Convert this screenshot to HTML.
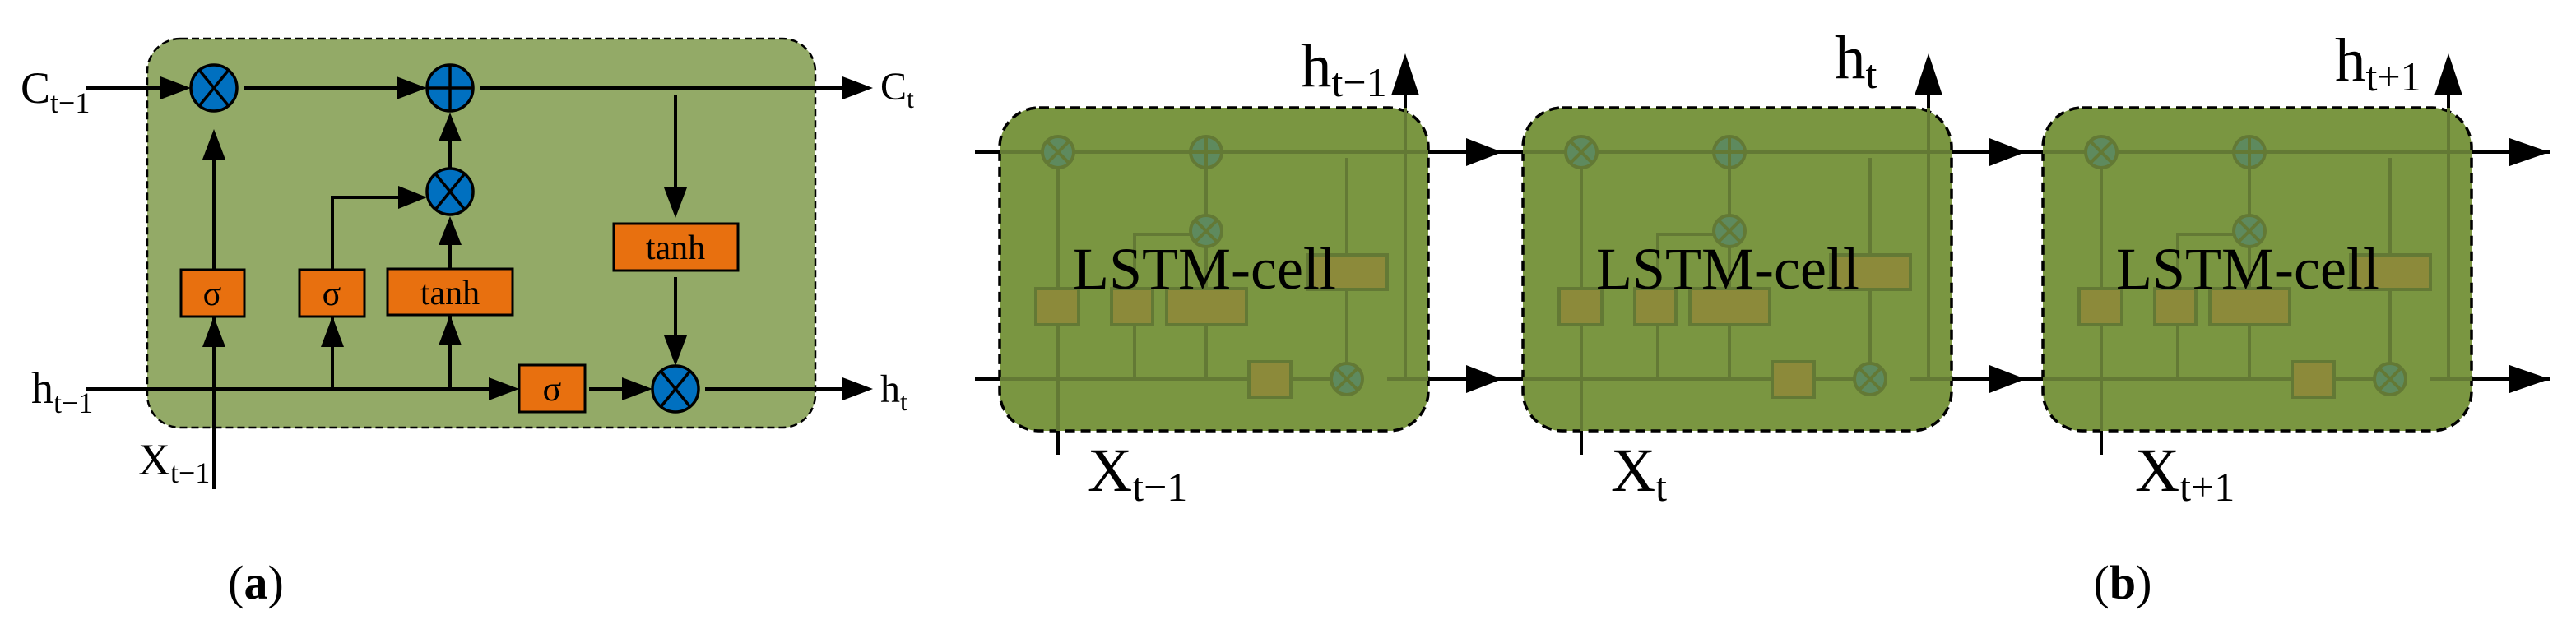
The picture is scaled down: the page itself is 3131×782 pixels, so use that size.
<!DOCTYPE html>
<html><head><meta charset="utf-8"><style>
html,body{margin:0;padding:0;background:#fff}
svg{display:block}
.s{font-family:"Liberation Serif","DejaVu Serif","Noto Serif CJK SC",serif}
</style></head><body>
<svg width="3131" height="782" viewBox="0 0 3131 782" xmlns="http://www.w3.org/2000/svg">
<defs>
<g id="cell">
  <line x1="-30" y1="185" x2="0" y2="185" stroke="#000" stroke-width="4"/>
  <line x1="-30" y1="461" x2="0" y2="461" stroke="#000" stroke-width="4"/>
  <line x1="520" y1="185" x2="611" y2="185" stroke="#000" stroke-width="4"/>
  <line x1="520" y1="461" x2="611" y2="461" stroke="#000" stroke-width="4"/>
  <polygon points="567,168 611,185 567,202" fill="#000"/>
  <polygon points="567,444 611,461 567,478" fill="#000"/>
  <line x1="493" y1="131" x2="493" y2="110" stroke="#000" stroke-width="4"/>
  <polygon points="476,116 493,65 510,116" fill="#000"/>
  <line x1="71" y1="524" x2="71" y2="553" stroke="#000" stroke-width="4"/>
  <rect x="0" y="131" width="521" height="393" rx="48" ry="48" fill="#7a9641" stroke="#000" stroke-width="3.5" stroke-dasharray="12,7"/>
  <g stroke="#637935" stroke-width="4" fill="none">
    <line x1="0" y1="185" x2="521" y2="185"/>
    <line x1="0" y1="461" x2="402" y2="461"/>
    <line x1="471" y1="461" x2="521" y2="461"/>
    <line x1="493" y1="131" x2="493" y2="461"/>
    <line x1="71" y1="206" x2="71" y2="524"/>
    <line x1="251" y1="205" x2="251" y2="262"/>
    <line x1="251" y1="300" x2="251" y2="461"/>
    <polyline points="164,461 164,285 232,285"/>
    <line x1="422" y1="192" x2="422" y2="442"/>
  </g>
  <g stroke="#637935" stroke-width="4" fill="#8c8a3a">
    <rect x="44" y="351" width="52" height="44"/>
    <rect x="136" y="351" width="50" height="44"/>
    <rect x="203" y="351" width="97" height="44"/>
    <rect x="374" y="310" width="97" height="42"/>
    <rect x="303" y="440" width="51" height="43"/>
  </g>
  <g stroke="#637935" stroke-width="4" fill="#5e8a5e">
    <circle cx="71" cy="185" r="19"/>
    <circle cx="251" cy="185" r="19"/>
    <circle cx="251" cy="281" r="19"/>
    <circle cx="422" cy="461" r="19"/>
  </g>
  <g stroke="#637935" stroke-width="4">
    <line x1="58" y1="172" x2="84" y2="198"/><line x1="84" y1="172" x2="58" y2="198"/>
    <line x1="251" y1="166" x2="251" y2="204"/><line x1="232" y1="185" x2="270" y2="185"/>
    <line x1="238" y1="268" x2="264" y2="294"/><line x1="264" y1="268" x2="238" y2="294"/>
    <line x1="409" y1="448" x2="435" y2="474"/><line x1="435" y1="448" x2="409" y2="474"/>
  </g>
  <text class="s" x="89" y="351" font-size="72">LSTM-cell</text>
</g>
</defs>

<rect x="179" y="47" width="812" height="473" rx="40" ry="40" fill="#93aa67" stroke="#000" stroke-width="2.5" stroke-dasharray="9,5"/>
<g stroke="#000" stroke-width="4" fill="none">
  <line x1="105" y1="107" x2="215" y2="107"/>
  <line x1="296" y1="107" x2="500" y2="107"/>
  <line x1="583" y1="107" x2="1040" y2="107"/>
  <line x1="821" y1="115" x2="821" y2="248"/>
  <line x1="821" y1="337" x2="821" y2="428"/>
  <line x1="260" y1="595" x2="260" y2="368"/>
  <line x1="260" y1="328" x2="260" y2="175"/>
  <line x1="404" y1="473" x2="404" y2="368"/>
  <polyline points="404,328 404,240 500,240"/>
  <line x1="547" y1="473" x2="547" y2="366"/>
  <line x1="547" y1="327" x2="547" y2="280"/>
  <line x1="547" y1="205" x2="547" y2="155"/>
  <line x1="105" y1="473" x2="612" y2="473"/>
  <line x1="716" y1="473" x2="775" y2="473"/>
  <line x1="857" y1="473" x2="1040" y2="473"/>
</g>
<g fill="#000">
  <polygon points="195,93 232,107 195,121"/>
  <polygon points="482,93 519,107 482,121"/>
  <polygon points="1024,93 1061,107 1024,121"/>
  <polygon points="807,228 821,265 835,228"/>
  <polygon points="807,408 821,445 835,408"/>
  <polygon points="246,422 260,385 274,422"/>
  <polygon points="246,194 260,157 274,194"/>
  <polygon points="390,422 404,385 418,422"/>
  <polygon points="484,226 519,240 484,254"/>
  <polygon points="533,420 547,383 561,420"/>
  <polygon points="533,298 547,263 561,298"/>
  <polygon points="533,172 547,137 561,172"/>
  <polygon points="594,459 631,473 594,487"/>
  <polygon points="756,459 793,473 756,487"/>
  <polygon points="1024,459 1061,473 1024,487"/>
</g>
<g fill="#0070c0" stroke="#000" stroke-width="3.5">
  <circle cx="260" cy="107" r="28"/>
  <circle cx="547" cy="107" r="28"/>
  <circle cx="547" cy="233" r="28"/>
  <circle cx="821" cy="473" r="28"/>
</g>
<g stroke="#000" stroke-width="3.5">
  <line x1="242" y1="85" x2="278" y2="129"/><line x1="278" y1="85" x2="242" y2="129"/>
  <line x1="547" y1="79" x2="547" y2="135"/><line x1="519" y1="107" x2="575" y2="107"/>
  <line x1="529" y1="211" x2="565" y2="255"/><line x1="565" y1="211" x2="529" y2="255"/>
  <line x1="803" y1="451" x2="839" y2="495"/><line x1="839" y1="451" x2="803" y2="495"/>
</g>
<g fill="#e8700f" stroke="#000" stroke-width="3">
  <rect x="220" y="328" width="77" height="57"/>
  <rect x="364" y="328" width="79" height="57"/>
  <rect x="471" y="327" width="152" height="56"/>
  <rect x="746" y="272" width="151" height="57"/>
  <rect x="631" y="444" width="80" height="57"/>
</g>
<g class="s" font-size="42" text-anchor="middle">
  <text class="s" x="258" y="371">σ</text>
  <text class="s" x="403" y="371">σ</text>
  <text class="s" x="547" y="370">tanh</text>
  <text class="s" x="821" y="315">tanh</text>
  <text class="s" x="671" y="487">σ</text>
</g>
<text class="s" x="25" y="125" font-size="54">C<tspan font-size="36" dy="12">t−1</tspan></text>
<text class="s" x="1070" y="121" font-size="48">C<tspan font-size="32" dy="10">t</tspan></text>
<text class="s" x="38" y="490" font-size="54">h<tspan font-size="36" dy="12">t−1</tspan></text>
<text class="s" x="1070" y="489" font-size="48">h<tspan font-size="32" dy="10">t</tspan></text>
<text class="s" x="168" y="577" font-size="54">X<tspan font-size="36" dy="10">t−1</tspan></text>
<text class="s" x="311" y="728" font-size="58" text-anchor="middle">(<tspan font-weight="bold">a</tspan>)</text>

<use href="#cell" x="1215" y="0"/>
<use href="#cell" x="1851" y="0"/>
<use href="#cell" x="2483" y="0"/>
<line x1="3004" y1="185" x2="3099" y2="185" stroke="#000" stroke-width="4"/>
<line x1="3004" y1="461" x2="3099" y2="461" stroke="#000" stroke-width="4"/>
<polygon points="3050,168 3099,185 3050,202" fill="#000"/>
<polygon points="3050,444 3099,461 3050,478" fill="#000"/>

<text class="s" x="1581" y="105" font-size="75">h<tspan font-size="50" dy="12">t−1</tspan></text>
<text class="s" x="2230" y="95" font-size="75">h<tspan font-size="50" dy="12">t</tspan></text>
<text class="s" x="2838" y="98" font-size="75">h<tspan font-size="50" dy="12">t+1</tspan></text>
<text class="s" x="1322" y="597" font-size="75">X<tspan font-size="50" dy="12">t−1</tspan></text>
<text class="s" x="1958" y="597" font-size="75">X<tspan font-size="50" dy="12">t</tspan></text>
<text class="s" x="2595" y="597" font-size="75">X<tspan font-size="50" dy="12">t+1</tspan></text>
<text class="s" x="2580" y="728" font-size="58" text-anchor="middle">(<tspan font-weight="bold">b</tspan>)</text>
</svg>
</body></html>
